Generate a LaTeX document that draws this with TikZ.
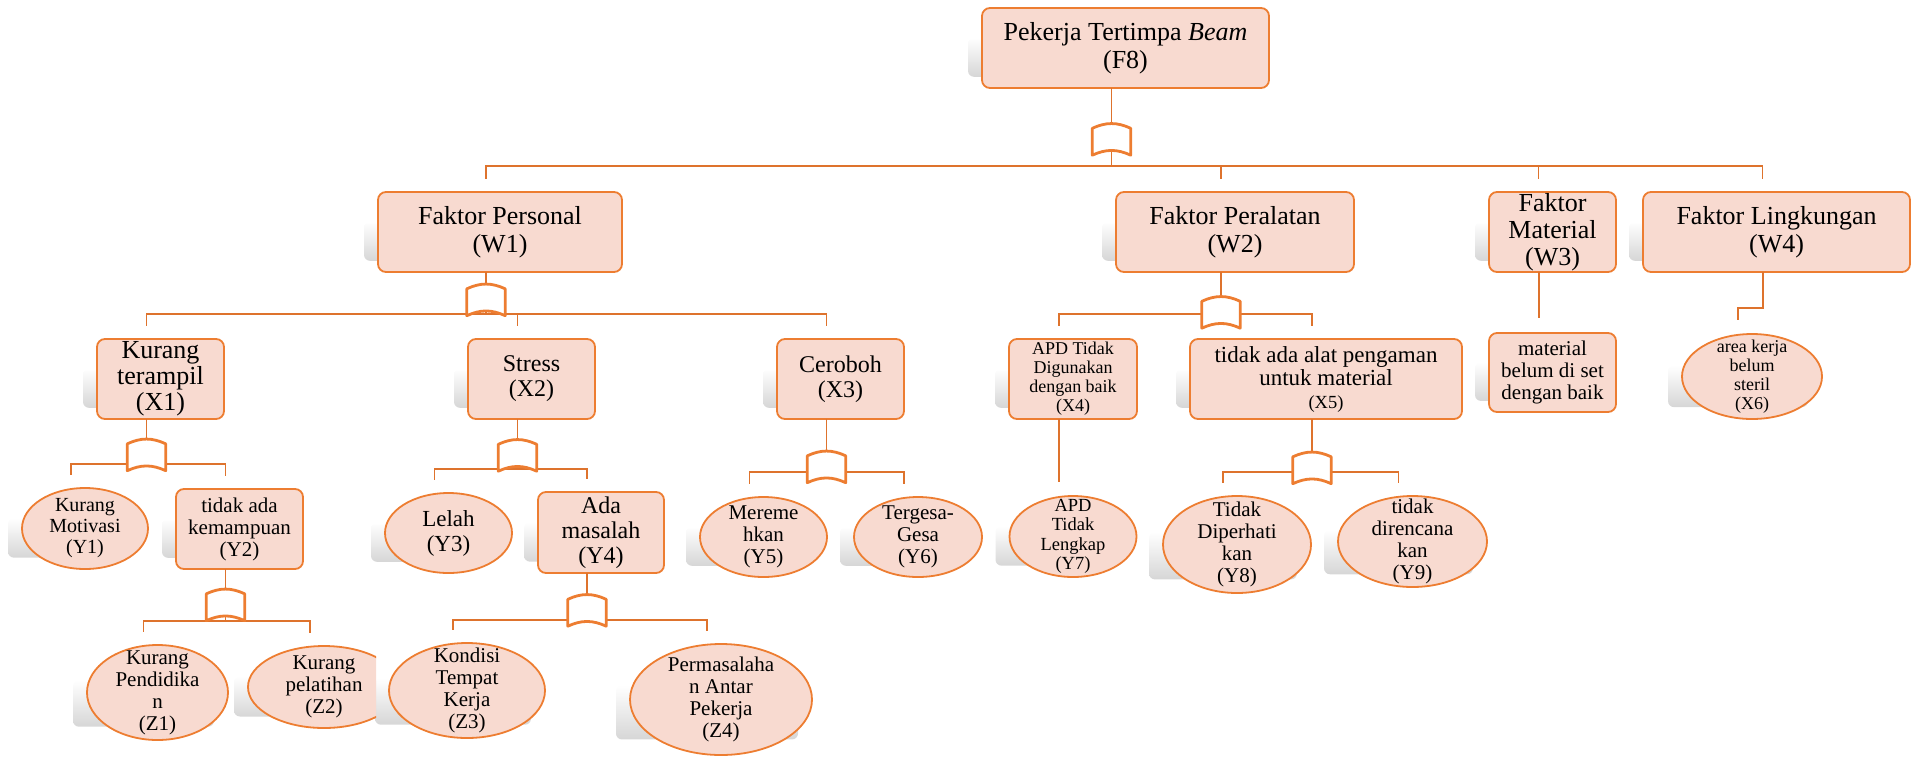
\documentclass[tikz,border=0pt]{standalone}
\usepackage{fontspec}
\setmainfont{Liberation Serif}
\usetikzlibrary{calc,backgrounds,shapes.geometric}

\definecolor{nodefill}{RGB}{248,218,208}
\definecolor{nodeline}{RGB}{237,125,49}
\definecolor{linkcol}{RGB}{222,115,45}
\definecolor{shadowcol}{RGB}{214,214,214}

\begin{document}
\begin{tikzpicture}[x=1pt,y=-1pt,
  base/.style={draw=nodeline, line width=1.8pt, fill=nodefill, inner sep=0pt, outer sep=0pt},
  rbox/.style 2 args={base, rectangle, rounded corners=8pt, minimum width=#1pt, minimum height=#2pt},
  oval/.style 2 args={base, ellipse, minimum width=#1pt, minimum height=#2pt},
  txt/.style={align=center, inner sep=0pt, text=black},
  tx/.style n args={3}{label={[txt,font=\fontsize{#1}{#2}\selectfont]center:{#3}}},
  gatebox/.style={rectangle, minimum width=38pt, minimum height=31pt, inner sep=0pt},
  gateline/.style={draw=nodeline, line width=2.8pt, line join=round, fill=white},
  conn/.style={draw=linkcol, line width=1.5pt},
]
\useasboundingbox (0,0) rectangle (1918,756);

% ---------- top event and main factors ----------
\node[rbox={287}{80}, tx={26}{28}{Pekerja Tertimpa \textit{Beam}\\(F8)}] (F8) at (1125.5,48) {};
\node[rbox={244}{80}, tx={26}{28}{Faktor Personal\\(W1)}] (W1) at (500,232) {};
\node[rbox={238}{80}, tx={26}{28}{Faktor Peralatan\\(W2)}] (W2) at (1235,232) {};
\node[rbox={127}{80}, tx={26}{27}{Faktor\\Material\\(W3)}] (W3) at (1552.5,232) {};
\node[rbox={267}{80}, tx={26}{28}{Faktor Lingkungan\\(W4)}] (W4) at (1776.5,232) {};

% ---------- second level ----------
\node[rbox={127}{80}, tx={26}{26}{Kurang\\terampil\\(X1)}] (X1) at (160.5,379) {};
\node[rbox={127}{80}, tx={24}{25}{Stress\\(X2)}] (X2) at (531.5,379) {};
\node[rbox={127}{80}, tx={24}{25}{Ceroboh\\(X3)}] (X3) at (840.5,379) {};
\node[rbox={128}{80}, tx={18}{19}{APD Tidak\\Digunakan\\dengan baik\\(X4)}] (X4) at (1073,379) {};
\node[rbox={272}{80}, tx={23}{23}{tidak ada alat pengaman\\untuk material\\\fontsize{18.5}{19}\selectfont (X5)}] (X5) at (1326,379) {};
\node[rbox={127}{79}, tx={21}{22}{material\\belum di set\\dengan baik}] (M) at (1552.5,372.5) {};
\node[oval={140}{85}, tx={18}{19}{area kerja\\belum\\steril\\(X6)}] (X6) at (1752,376.5) {};

% ---------- third level ----------
\node[oval={126}{81}, tx={20}{21}{Kurang\\Motivasi\\(Y1)}] (Y1) at (85,528.5) {};
\node[rbox={127}{80}, tx={21}{22}{tidak ada\\kemampuan\\(Y2)}] (Y2) at (239.5,529) {};
\node[oval={127}{80}, tx={23}{25}{Lelah\\(Y3)}] (Y3) at (448.5,533) {};
\node[rbox={126}{81}, tx={24}{25}{Ada\\masalah\\(Y4)}] (Y4) at (601,532.5) {};
\node[oval={127}{80}, tx={21}{22}{Mereme\\hkan\\(Y5)}] (Y5) at (763.5,537) {};
\node[oval={128}{80}, tx={21}{22}{Tergesa-\\Gesa\\(Y6)}] (Y6) at (918,537) {};
\node[oval={127}{81}, tx={18.5}{19.5}{APD\\Tidak\\Lengkap\\(Y7)}] (Y7) at (1073,536.5) {};
\node[oval={148}{97}, tx={21}{22}{Tidak\\Diperhati\\kan\\(Y8)}] (Y8) at (1237,544.5) {};
\node[oval={149}{91}, tx={21}{22}{tidak\\direncana\\kan\\(Y9)}] (Y9) at (1412.5,541.5) {};

% ---------- fourth level ----------
\node[oval={141}{95}, tx={21}{22}{Kurang\\Pendidika\\n\\(Z1)}] (Z1) at (157.5,692.5) {};
\begin{scope}
  \clip (200,600) rectangle (376,756);
  \node[oval={152}{82}, tx={21}{22}{Kurang\\pelatihan\\(Z2)}] (Z2) at (324,687) {};
\end{scope}
\node[oval={156}{95}, tx={21}{22}{Kondisi\\Tempat\\Kerja\\(Z3)}] (Z3) at (467,690.5) {};
\node[oval={182}{111}, tx={21}{22}{Permasalaha\\n Antar\\Pekerja\\(Z4)}] (Z4) at (721,699.5) {};

% ---------- soft shadows behind the shapes ----------
\begin{scope}[on background layer]
  \foreach \nm in {F8,W1,W2,W3,W4,X1,X2,X3,X4,X5,M,X6,Y1,Y2,Y3,Y4,Y5,Y6,Y7,Y8,Y9,Z1,Z3,Z4}{
    \shade[top color=white, bottom color=shadowcol, rounded corners=6pt]
      let \p1=(\nm.north -| \nm.west), \p2=(\nm.south -| \nm.east), \n1={\y1-\y2} in
      (\x1-14pt, \y1-0.37*\n1*1pt) rectangle (\x2-14pt, \y2+0.14*\n1*1pt);
  }
  \begin{scope}
    \clip (200,600) rectangle (376,756);
    \shade[top color=white, bottom color=shadowcol, rounded corners=6pt]
      let \p1=(Z2.north -| Z2.west), \p2=(Z2.south -| Z2.east), \n1={\y1-\y2} in
      (\x1-14pt, \y1-0.37*\n1*1pt) rectangle (\x2-14pt, \y2+0.14*\n1*1pt);
  \end{scope}
\end{scope}

% ---------- gates ----------
\node[gatebox] (g0)  at (1111.5,139.5) {};
\node[gatebox] (gW1) at (486,300) {};
\node[gatebox] (gW2) at (1221,312.5) {};
\node[gatebox] (gX1) at (146.5,455) {};
\node[gatebox] (gX2) at (517.5,455.5) {};
\node[gatebox] (gX3) at (826.5,467) {};
\node[gatebox] (gX5) at (1312,468) {};
\node[gatebox] (gY2) at (225.5,605) {};
\node[gatebox] (gY4) at (587,610.5) {};

% bar levels below each gate
\coordinate (b0)  at (1111.5,166);
\coordinate (bW1) at (486,314);
\coordinate (bW2) at (1221,314);
\coordinate (bX1) at (146.5,464);
\coordinate (bX2) at (517.5,469);
\coordinate (bX3) at (826.5,472);
\coordinate (bX5) at (1312,472);
\coordinate (bY2) at (225.5,621);
\coordinate (bY4) at (587,620);

% ---------- connectors ----------
\foreach \p/\g in {F8/g0,W1/gW1,W2/gW2,X1/gX1,X2/gX2,X3/gX3,X5/gX5,Y2/gY2,Y4/gY4}
  \draw[conn] (\p.south -| \g) -- (\g.north);
\foreach \g/\b in {g0/b0,gW1/bW1,gW2/bW2,gX1/bX1,gX2/bX2,gX3/bX3,gX5/bX5,gY2/bY2,gY4/bY4}
  \draw[conn] ([yshift=4.4pt]\g.south) -- (\b);
\foreach \b/\c in {b0/W1,b0/W2,b0/W3,b0/W4,bW1/X1,bW1/X2,bW1/X3,bW2/X4,bW2/X5,
                   bX1/Y1,bX1/Y2,bX2/Y3,bX2/Y4,bX3/Y5,bX3/Y6,bX5/Y8,bX5/Y9,
                   bY2/Z1,bY2/Z2,bY4/Z3,bY4/Z4}
  \draw[conn] (\b) -| ($(\c.north)+(-14,-13)$);
\draw[conn] ($(X4.south)+(-14,0)$) -- ($(Y7.north)+(-14,-14)$);
\draw[conn] ($(W3.south)+(-13.5,0)$) -- ($(M.north)+(-13.5,-15)$);
\draw[conn] ($(W4.south)+(-13.5,0)$) |- ($(X6.north)+(-14,-26)$) -- ($(X6.north)+(-14,-14)$);

% gate outlines: curved top, straight sides, bottom arched upward
\foreach \g in {g0,gW1,gW2,gX1,gX2,gX3,gX5,gY2,gY4}
  \draw[gateline] (\g.south west) -- ([yshift=-4.5pt]\g.north west)
    to[bend left=25] ([yshift=-4.5pt]\g.north east) -- (\g.south east)
    to[bend right=25] (\g.south west) -- cycle;
\end{tikzpicture}
\end{document}
